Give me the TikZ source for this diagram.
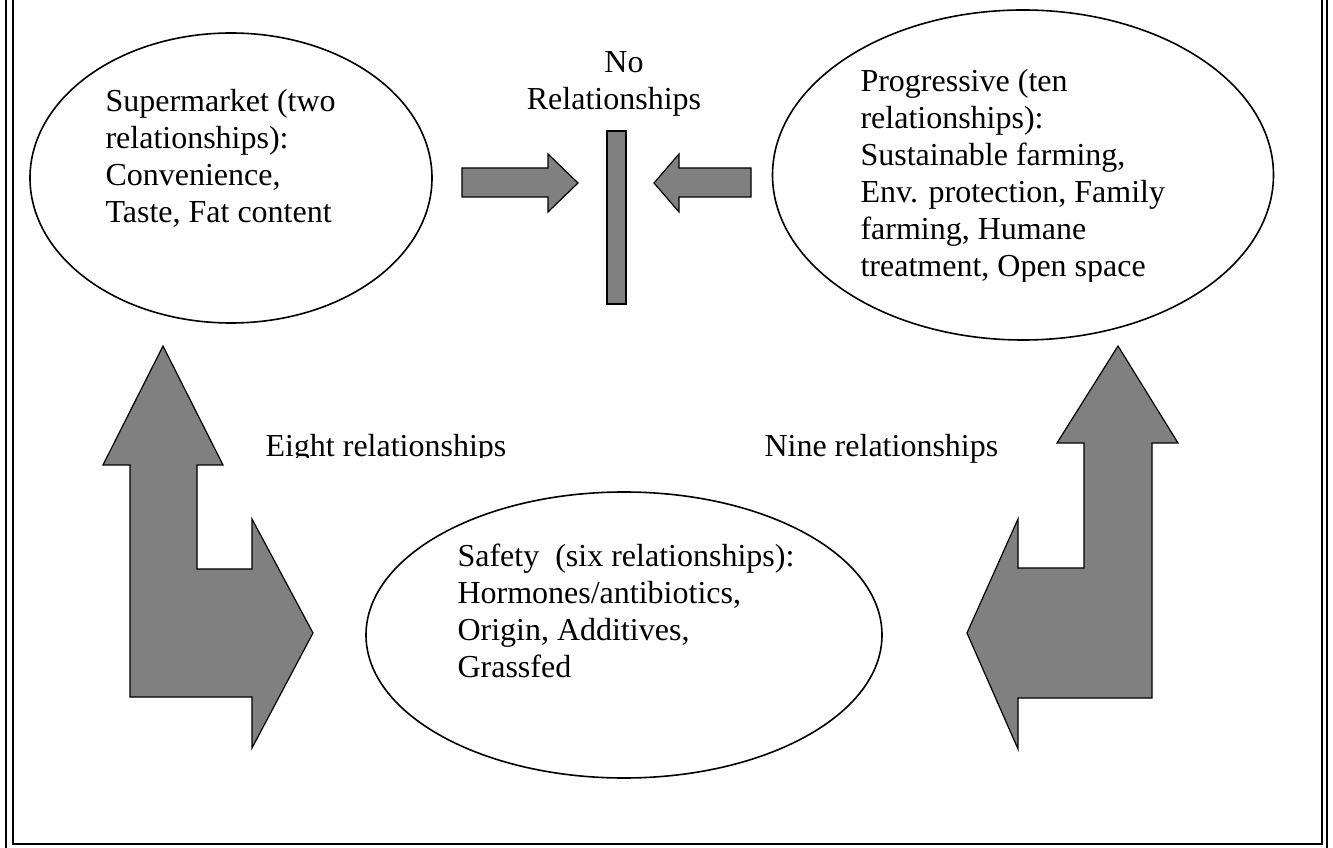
\documentclass[tikz,border=0pt]{standalone}
\usepackage{fontspec}
\setmainfont{Liberation Serif}
\usetikzlibrary{shapes.geometric}
\newlength\unitpx
\setlength\unitpx{0.375pt}

\begin{document}
\begin{tikzpicture}[x={(0.375pt,0pt)}, y={(0pt,-0.375pt)},
    txt/.style={font=\fontsize{12}{13.9}\selectfont, inner sep=0pt, anchor=base west, align=left},
    blob/.style={draw=black, line width=0.6pt, ellipse, inner sep=0pt},
    block/.style={fill=gray, draw=black, line width=0.45pt, line join=miter}]
  \useasboundingbox (0,0) rectangle (1333,848);
  % double frame, open at the top
  \draw[line width=1.1pt] (6,-10) -- (6,860) -- (1327,860) -- (1327,-10);
  \draw[line width=0.75pt] (13,-10) -- (13,844) -- (1322,844) -- (1322,-10);

  % the three groups (text placed by its last baseline)
  \node[blob, minimum width=402\unitpx, minimum height=290\unitpx] (super) at (231,178) {};
  \node[blob, minimum width=501\unitpx, minimum height=330\unitpx] (prog) at (1023,175) {};
  \node[blob, minimum width=516\unitpx, minimum height=286\unitpx] (safety) at (624,635) {};

  \node[txt] (supertext) at (105,223) {Supermarket (two\\relationships):\\Convenience,\\Taste, Fat content};
  \begin{scope}
    \clip (840,40) rectangle (1260,282);
    \node[txt] (progtext) at (860,277) {Progressive (ten\\relationships):\\Sustainable farming,\\Env. protection, Family\\farming, Humane\\treatment, Open space};
  \end{scope}
  \node[txt] (safetytext) at (457,678) {Safety\ \ (six relationships):\\Hormones/antibiotics,\\Origin, Additives,\\Grassfed};
  \node[txt, anchor=base, align=center] (nonelabel) at (614,110) {\hspace*{20\unitpx}No\\Relationships};

  \begin{scope}
    \clip (250,420) rectangle (520,458);
    \node[txt] (eightlabel) at (265,457) {Eight relationships};
  \end{scope}
  \node[txt] (ninelabel) at (764,457) {Nine relationships};

  % block arrows and bar
  \draw[block] (462,168) -- (548,168) -- (548,154) -- (578,183) -- (548,212) -- (548,197) -- (462,197) -- cycle;
  \draw[block] (607,131) rectangle (626,304);
  \draw[block] (751,168) -- (679,168) -- (679,154) -- (654,183) -- (679,212) -- (679,197) -- (751,197) -- cycle;

  \draw[block] (163,346) -- (223,465) -- (197,465) -- (197,569) -- (252,569) -- (252,519) -- (313,633)
    -- (252,748) -- (252,697) -- (130,697) -- (130,465) -- (103,465) -- cycle;
  \draw[block] (1118,346) -- (1178,443) -- (1152,443) -- (1152,698) -- (1018,698) -- (1018,749) -- (967,633)
    -- (1018,519) -- (1018,568) -- (1084,568) -- (1084,443) -- (1057,443) -- cycle;
\end{tikzpicture}
\end{document}
